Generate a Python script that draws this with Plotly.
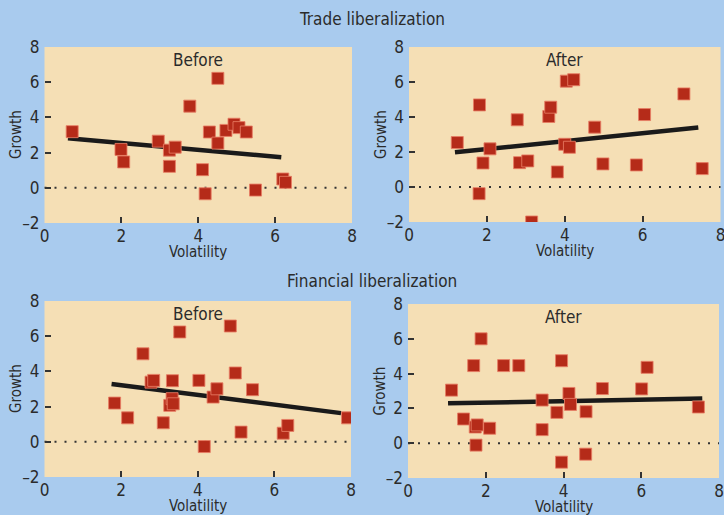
import plotly.graph_objects as go

# ---- data ----
trade_before_x = [0.72, 1.99, 2.06, 2.96, 3.25, 3.40, 3.25, 3.78, 4.11, 4.18, 4.29, 4.51, 4.51, 4.72, 4.93, 5.06, 5.25, 5.49, 6.20, 6.27]
trade_before_y = [3.19, 2.18, 1.47, 2.65, 2.14, 2.31, 1.22, 4.64, 1.03, -0.34, 3.17, 6.22, 2.54, 3.26, 3.61, 3.42, 3.17, -0.13, 0.50, 0.31]
trade_before_fit_x = [0.61, 6.16]
trade_before_fit_y = [2.81, 1.74]

trade_after_x = [1.24, 1.81, 1.80, 1.90, 2.08, 2.78, 2.84, 3.05, 3.15, 3.59, 3.64, 3.81, 4.04, 4.23, 4.00, 4.12, 4.77, 4.98, 5.84, 6.05, 7.06, 7.53]
trade_after_y = [2.54, 4.69, -0.38, 1.37, 2.18, 3.84, 1.39, 1.49, -2.0, 4.03, 4.56, 0.86, 6.05, 6.13, 2.44, 2.27, 3.42, 1.32, 1.26, 4.14, 5.32, 1.05]
trade_after_fit_x = [1.18, 7.43]
trade_after_fit_y = [1.98, 3.40]

fin_before_x = [1.83, 2.17, 2.57, 2.78, 2.85, 3.10, 3.27, 3.33, 3.36, 3.34, 3.53, 4.03, 4.17, 4.40, 4.50, 4.85, 4.98, 5.13, 5.43, 6.23, 6.35, 7.91]
fin_before_y = [2.20, 1.36, 5.00, 3.39, 3.49, 1.08, 2.07, 2.45, 2.16, 3.47, 6.24, 3.49, -0.27, 2.54, 3.01, 6.58, 3.91, 0.55, 2.96, 0.49, 0.93, 1.36]
fin_before_fit_x = [1.75, 7.74]
fin_before_fit_y = [3.28, 1.63]

fin_after_x = [1.12, 1.43, 1.69, 1.73, 1.78, 1.75, 1.88, 2.10, 2.46, 2.85, 3.45, 3.45, 3.83, 3.95, 3.95, 4.14, 4.18, 4.58, 4.57, 5.00, 6.01, 6.15, 7.47]
fin_after_y = [3.05, 1.39, 4.46, 0.93, 1.05, -0.11, 6.00, 0.86, 4.46, 4.46, 2.48, 0.78, 1.77, 4.74, -1.09, 2.86, 2.23, 1.81, -0.63, 3.14, 3.12, 4.36, 2.08]
fin_after_fit_x = [1.03, 7.57]
fin_after_fit_y = [2.29, 2.57]

panel_labels = ["Before", "After", "Before", "After"]
section_titles = ["Trade liberalization", "Financial liberalization"]
x_ticks = [0, 2, 4, 6, 8]
y_ticks = [-2, 0, 2, 4, 6, 8]
y_tick_text = ["\u20132", "0", "2", "4", "6", "8"]

# ---- styling ----
W, H = 724, 515
BG = "#A9CBEE"
PLOT_BG = "#F5DFB5"
MARK = "#B52B19"
FONT = "Liberation Sans Narrow, DejaVu Sans Condensed, Arial Narrow, sans-serif"
TXT = "#2b2b2b"

# plot areas in pixels: (x0, x1, y0_top, y1_bottom)
areas = [(44.5, 352, 47, 223), (409, 720.5, 47, 222), (44.5, 351, 301, 477), (408, 719, 304, 478)]

panels = [
    (trade_before_x, trade_before_y, trade_before_fit_x, trade_before_fit_y),
    (trade_after_x, trade_after_y, trade_after_fit_x, trade_after_fit_y),
    (fin_before_x, fin_before_y, fin_before_fit_x, fin_before_fit_y),
    (fin_after_x, fin_after_y, fin_after_fit_x, fin_after_fit_y),
]

fig = go.Figure()
layout = dict(
    width=W, height=H, margin=dict(l=0, r=0, t=0, b=0, pad=0), autosize=False,
    paper_bgcolor=BG, plot_bgcolor=PLOT_BG, showlegend=False,
    font=dict(family=FONT, color=TXT),
)
annotations = []
shapes = []

for i, ((px, py, fx, fy), (x0, x1, y0, y1)) in enumerate(zip(panels, areas)):
    n = i + 1
    xa = "x" if n == 1 else f"x{n}"
    ya = "y" if n == 1 else f"y{n}"
    xkey = "xaxis" if n == 1 else f"xaxis{n}"
    ykey = "yaxis" if n == 1 else f"yaxis{n}"
    fig.add_trace(go.Scatter(
        x=fx, y=fy, mode="lines", xaxis=xa, yaxis=ya,
        line=dict(color="#1a1a1a", width=4.5), hoverinfo="skip"))
    fig.add_trace(go.Scatter(
        x=px, y=py, mode="markers", xaxis=xa, yaxis=ya,
        marker=dict(symbol="square", size=12, color=MARK,
                    line=dict(color="rgba(232,125,100,0.85)", width=1))))
    layout[xkey] = dict(
        domain=[x0 / W, x1 / W], anchor=ya, range=[0, 8], tickvals=x_ticks,
        showgrid=False, zeroline=False, showline=False, automargin=False,
        ticks="inside", ticklen=6, tickwidth=1.5, tickcolor="#333",
        ticklabelstandoff=1, ticklabeloverflow="allow",
        tickfont=dict(size=17, color=TXT),
    )
    layout[ykey] = dict(
        domain=[1 - y1 / H, 1 - y0 / H], anchor=xa, range=[-2, 8], tickvals=y_ticks,
        ticktext=y_tick_text,
        showgrid=False, zeroline=False, showline=False, automargin=False,
        ticks="inside", ticklen=6, tickwidth=1.5, tickcolor="#333",
        ticklabelstandoff=4, ticklabeloverflow="allow",
        tickfont=dict(size=17, color=TXT),
    )
    shapes.append(dict(
        type="line", xref=f"{xa} domain", yref=ya, x0=0, x1=1, y0=0, y1=0,
        line=dict(color="#333", width=2, dash="2px,8px"), layer="below"))
    # panel label
    annotations.append(dict(
        text=panel_labels[i], xref=f"{xa} domain", yref=f"{ya} domain",
        x=0.5, y=1, xanchor="center", yanchor="middle", yshift=-13,
        showarrow=False, font=dict(size=17, color=TXT)))
    # axis titles
    annotations.append(dict(
        text="Volatility", xref=f"{xa} domain", yref=f"{ya} domain",
        x=0.5, y=0, xanchor="center", yanchor="middle", yshift=-29,
        showarrow=False, font=dict(size=15, color=TXT)))
    annotations.append(dict(
        text="Growth", xref=f"{xa} domain", yref=f"{ya} domain",
        x=0, y=0.5, xanchor="center", yanchor="middle", xshift=-28.5,
        textangle=-90, showarrow=False, font=dict(size=15, color=TXT)))

annotations.append(dict(text=section_titles[0], xref="paper", yref="paper",
                        x=372 / W, y=1 - 19 / H, xanchor="center", yanchor="middle",
                        showarrow=False, font=dict(size=17, color=TXT)))
annotations.append(dict(text=section_titles[1], xref="paper", yref="paper",
                        x=372 / W, y=1 - 281 / H, xanchor="center", yanchor="middle",
                        showarrow=False, font=dict(size=17, color=TXT)))

layout["annotations"] = annotations
layout["shapes"] = shapes
fig.update_layout(**layout)
fig.write_html(
    "out.html",
    config={"displayModeBar": False},
    post_script="document.body.style.margin='0';document.body.style.overflow='hidden';",
)
